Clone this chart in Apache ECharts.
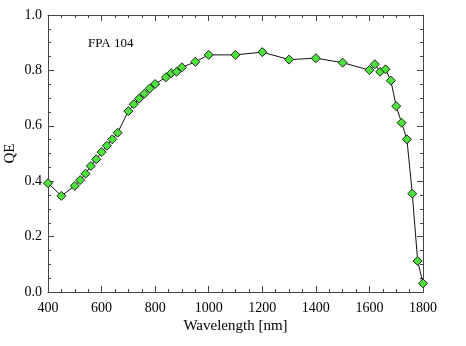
<!DOCTYPE html>
<html>
<head>
<meta charset="utf-8">
<script src="https://cdn.jsdelivr.net/npm/echarts@6/dist/echarts.min.js"></script>
<style>
	html, body { margin: 0; padding: 0; background: #fff; }
	#chart { width: 466px; height: 346px; }
</style>
</head>
<body>
<div id="chart"></div>
<script>
	// wavelength [nm] and QE
	const wavelength = [400, 450, 500, 520, 540, 560, 580, 600, 620, 640, 660, 700, 720, 740, 760, 780, 800,
		840, 860, 880, 900, 950, 1000, 1100, 1200, 1300, 1400, 1500, 1600, 1620, 1640, 1660, 1680, 1700,
		1720, 1740, 1760, 1780, 1800];
	const qe = [0.393, 0.347, 0.383, 0.404, 0.427, 0.455, 0.479, 0.505, 0.528, 0.551, 0.575, 0.653, 0.678,
		0.698, 0.716, 0.735, 0.751, 0.775, 0.790, 0.795, 0.811, 0.831, 0.856, 0.856, 0.866, 0.839, 0.844,
		0.828, 0.801, 0.822, 0.795, 0.804, 0.763, 0.671, 0.611, 0.551, 0.355, 0.112, 0.031];
	const xTicks = [400, 600, 800, 1000, 1200, 1400, 1600, 1800];
	const yTicks = [0.0, 0.2, 0.4, 0.6, 0.8, 1.0];

	let chart = echarts.init(document.getElementById('chart'));
	const font = 'Liberation Serif';
	const axisColor = '#444';

	let points = [];
	for (let i = 0; i < wavelength.length; i++) {
		points.push([wavelength[i], qe[i]]);
	}

	function frameAxis(extra) {
		return Object.assign({
			type: 'value',
			axisLine: { show: true, onZero: false, lineStyle: { color: axisColor, width: 1 } },
			axisTick: { show: true, inside: true, length: 6, lineStyle: { color: axisColor } },
			minorTick: { show: true, splitNumber: 4, length: 3, lineStyle: { color: axisColor } },
			splitLine: { show: false },
			minorSplitLine: { show: false }
		}, extra);
	}

	let option = {
		backgroundColor: '#fff',
		animation: false,
		grid: { left: 48, right: 43, top: 15, bottom: 54, containLabel: false, outerBoundsMode: 'none' },
		xAxis: [
			frameAxis({
				position: 'bottom',
				min: xTicks[0], max: xTicks[xTicks.length - 1], interval: 200,
				name: 'Wavelength [nm]', nameLocation: 'middle', nameGap: 27, nameMoveOverlap: false,
				nameTextStyle: { fontFamily: font, fontSize: 15, color: '#000' },
				axisLabel: {
					fontFamily: font, fontSize: 14, color: '#000', margin: 9,
					formatter: function (v) { return String(v); }
				}
			}),
			frameAxis({
				position: 'top',
				min: xTicks[0], max: xTicks[xTicks.length - 1], interval: 200,
				axisLabel: { show: false }
			})
		],
		yAxis: [
			frameAxis({
				position: 'left',
				min: yTicks[0], max: yTicks[yTicks.length - 1], interval: 0.2,
				name: 'QE', nameLocation: 'middle', nameGap: 30, nameRotate: 90, nameMoveOverlap: false,
				nameTextStyle: { fontFamily: font, fontSize: 15, color: '#000' },
				axisLabel: {
					fontFamily: font, fontSize: 14, color: '#000', margin: 6,
					formatter: function (v) { return v.toFixed(1); }
				}
			}),
			frameAxis({
				position: 'right',
				min: yTicks[0], max: yTicks[yTicks.length - 1], interval: 0.2,
				axisLabel: { show: false }
			})
		],
		graphic: [{
			type: 'text',
			left: 88, top: 37,
			style: { text: 'FPA 104', fontFamily: font, fontSize: 13, fill: '#000' }
		}],
		series: [{
			name: 'QE',
			type: 'line',
			data: points,
			symbol: 'diamond',
			symbolSize: 9,
			showAllSymbol: true,
			lineStyle: { color: '#111', width: 1 },
			itemStyle: { color: '#4ee33a', borderColor: '#222', borderWidth: 1 }
		}]
	};

	chart.setOption(option);

	window.onresize = function () {
		chart.resize();
	}
</script>
</body>
</html>
